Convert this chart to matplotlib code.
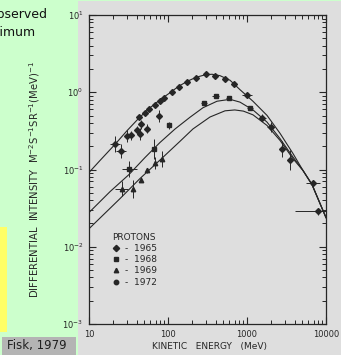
import matplotlib
matplotlib.use("Agg")
import numpy as np
import matplotlib.pyplot as plt
from matplotlib.patches import Rectangle
from matplotlib.lines import Line2D

# ---------------------------------------------
# Data
# ---------------------------------------------
# model curves: kinetic energy (MeV) / intensity
curve_E_1965 = [10, 13.8, 21.3, 30.3, 43.0, 59.2, 79.3, 106, 134, 174, 226, 294, 361,
                455, 610, 815, 1191, 1791, 2618, 3820, 5117, 6653, 10000]
curve_I_1965 = [0.0914, 0.131, 0.211, 0.318, 0.465, 0.630, 0.800, 0.985, 1.18, 1.38, 1.56,
                1.68, 1.71, 1.64, 1.43, 1.08, 0.764, 0.502, 0.294, 0.161, 0.097, 0.0638, 0.0238]

curve_E_1968 = [10, 18.5, 32.1, 51.2, 79.3, 123, 190, 277, 417, 610, 815, 1191, 1791,
                2618, 3820, 5117, 6653, 10000]
curve_I_1968 = [0.0277, 0.0518, 0.0861, 0.143, 0.224, 0.335, 0.475, 0.630, 0.765, 0.810,
                0.745, 0.590, 0.411, 0.251, 0.145, 0.097, 0.0638, 0.0238]

curve_E_1969 = [10, 24.7, 44.2, 83.2, 142, 207, 340, 527, 700, 900, 1191, 1791, 2618, 3820,
                5117, 6653, 10000]
curve_I_1969 = [0.0171, 0.0420, 0.0764, 0.139, 0.232, 0.335, 0.478, 0.575, 0.590, 0.570,
                0.510, 0.372, 0.238, 0.138, 0.097, 0.0638, 0.0238]

# measured points; error bars given as multiplicative factors (1 = no bar)
E_1965 = [21.3, 25.4, 30.0, 33.7, 40.2, 45.1, 44.2, 54.7, 76.2, 43.4, 51.2, 58.0, 68.4,
          79.3, 89.0, 111, 136, 173, 226, 300, 396, 527, 691, 991, 1571, 1995, 2750,
          3500, 6790, 8000]
I_1965 = [0.211, 0.173, 0.270, 0.277, 0.328, 0.384, 0.291, 0.338, 0.488, 0.478, 0.533,
          0.614, 0.678, 0.771, 0.853, 1.00, 1.18, 1.36, 1.54, 1.70, 1.64, 1.47, 1.27,
          0.914, 0.469, 0.354, 0.186, 0.134, 0.0678, 0.0287]
xlo_1965 = [1.16, 1.16, 1, 1, 1, 1, 1, 1, 1, 1, 1, 1, 1, 1, 1, 1, 1, 1, 1, 1.06, 1.06,
            1.06, 1.06, 1.16, 1.12, 1.1, 1, 1, 1.22, 1.95]
xhi_1965 = [1.16, 1.16, 1, 1, 1, 1, 1, 1, 1, 1, 1, 1, 1, 1, 1, 1, 1, 1, 1, 1.06, 1.06,
            1.06, 1.06, 1.16, 1.12, 1.1, 1, 1, 1.22, 1.25]
yf_1965 = [1.27, 1.23, 1.2, 1.15, 1.12, 1.15, 1.2, 1.15, 1.2, 1.05, 1.05, 1.05, 1.05,
           1.05, 1.05, 1.04, 1.04, 1.04, 1.04, 1.04, 1.04, 1.04, 1.04, 1.05, 1.1, 1.16,
           1.27, 1.35, 1.08, 1.12]

E_1968 = [32.4, 67.2, 103, 286, 402, 586, 1091]
I_1968 = [0.102, 0.186, 0.372, 0.734, 0.887, 0.853, 0.625]
xf_1968 = [1.24, 1, 1, 1.1, 1.1, 1.08, 1.1]
yf_1968 = [1.27, 1.35, 1.1, 1.05, 1.05, 1.05, 1.06]

E_1969 = [25.9, 35.7, 45.1, 54.7, 68.4, 83.2]
I_1969 = [0.0561, 0.0566, 0.0741, 0.0971, 0.121, 0.138]
xf_1969 = [1.21, 1, 1, 1, 1, 1]
yf_1969 = [1.25, 1.31, 1.08, 1.08, 1.2, 1.27]

E_1972 = []
I_1972 = []

xtick_vals = [10, 100, 1000, 10000]
xtick_labels = ["10", "100", "1000", "10000"]

# ---------------------------------------------
# Colours
# ---------------------------------------------
green = "#ccffcc"
scan = "#dedede"
ink = "#262626"

fig = plt.figure(figsize=(3.41, 3.55), dpi=100, facecolor=green)

# scanned page + slide decorations (behind the axes)
for (x0, y0, w, h, c) in [(78, 0, 263, 354, scan), (0, 23, 7, 105, "#ffff66"),
                          (2, 0, 74, 18, "#b4b4b4")]:
    fig.patches.append(Rectangle((x0/341, y0/355), w/341, h/355, transform=fig.transFigure,
                                 facecolor=c, edgecolor="none", zorder=-10))
fig.text(7/341, 9/355, "Fisk, 1979", fontsize=8.5, color="#202020", va="center", ha="left")
fig.text(47/341, 1 - 14/355, "observed", fontsize=9, color="#111111", va="center", ha="right")
fig.text(36/341, 1 - 32/355, "minimum", fontsize=9, color="#111111", va="center", ha="right")

ax = fig.add_axes([89/341, 1 - 324/355, 237/341, 309/355])
ax.set_facecolor("none")
ax.set_xscale("log")
ax.set_yscale("log")
ax.set_xlim(10, 10000)
ax.set_ylim(1e-3, 10)

# curves
for cE, cI in [(curve_E_1965, curve_I_1965), (curve_E_1968, curve_I_1968),
               (curve_E_1969, curve_I_1969)]:
    ax.plot(cE, cI, color=ink, lw=0.8)


def bars(E, I, xlo, xhi, yf):
    E = np.array(E, float)
    I = np.array(I, float)
    xe = [E - E / np.array(xlo), E * np.array(xhi) - E]
    ye = [I - I / np.array(yf), I * np.array(yf) - I]
    return E, I, xe, ye


E, I, xe, ye = bars(E_1965, I_1965, xlo_1965, xhi_1965, yf_1965)
ax.errorbar(E, I, xerr=xe, yerr=ye, fmt="D", ms=3, color=ink, elinewidth=0.7, capsize=0)
E, I, xe, ye = bars(E_1968, I_1968, xf_1968, xf_1968, yf_1968)
ax.errorbar(E, I, xerr=xe, yerr=ye, fmt="s", ms=3.2, color=ink, elinewidth=0.7, capsize=0)
E, I, xe, ye = bars(E_1969, I_1969, xf_1969, xf_1969, yf_1969)
ax.errorbar(E, I, xerr=xe, yerr=ye, fmt="^", ms=3.2, color=ink, elinewidth=0.7, capsize=0)
ax.plot(E_1972, I_1972, "o", ms=2.5, color=ink)

# axes look
for s in ax.spines.values():
    s.set_color(ink)
    s.set_linewidth(0.9)
ax.tick_params(which="both", direction="in", top=True, right=True, colors=ink,
               labelsize=6, pad=4)
ax.tick_params(which="major", length=5, width=0.8)
ax.tick_params(which="minor", length=3, width=0.7)
ax.set_xticks(xtick_vals, labels=xtick_labels)

fig.text(210/341, 1 - 347/355, "KINETIC   ENERGY   (MeV)", fontsize=6.5, color=ink,
         ha="center", va="center")
fig.text(35/341, 1 - 180/355,
         r"DIFFERENTIAL  INTENSITY  M$^{-2}$S$^{-1}$SR$^{-1}$(MeV)$^{-1}$",
         fontsize=7.2, color=ink, rotation=90, ha="center", va="center")

handles = [Line2D([], [], ls="none", marker=m, ms=3.2, color=ink) for m in ["D", "s", "^", "o"]]
leg = ax.legend(handles, ["-  1965", "-  1968", "-  1969", "-  1972"], title="PROTONS",
                loc="upper left", bbox_to_anchor=(0.08, 0.31), frameon=False,
                fontsize=6.5, title_fontsize=6.5, handlelength=0.8, handletextpad=0.6,
                labelspacing=0.25, borderpad=0, alignment="left")
for t in leg.get_texts():
    t.set_color(ink)
leg.get_title().set_color(ink)

fig.savefig("out.png", dpi=100, facecolor=green)
